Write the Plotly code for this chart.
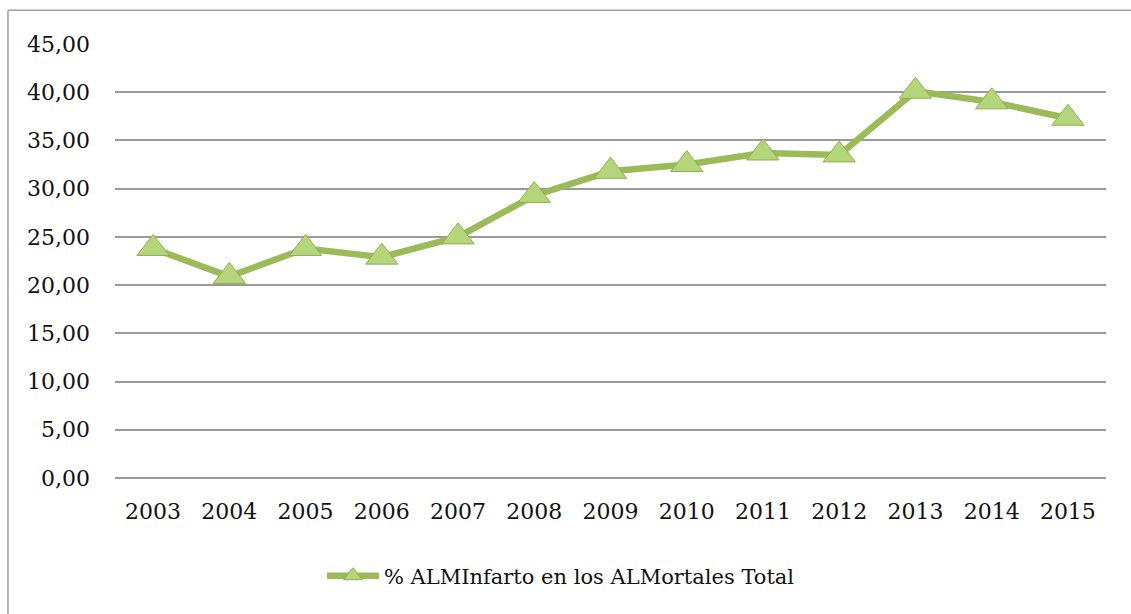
import plotly.graph_objs as go

years = ["2003", "2004", "2005", "2006", "2007", "2008", "2009",
         "2010", "2011", "2012", "2013", "2014", "2015"]
pct_infarto = [23.8, 20.9, 23.8, 22.9, 25.0, 29.3, 31.8,
               32.5, 33.7, 33.5, 40.1, 39.0, 37.3]
series_name = "% ALMInfarto en los ALMortales Total"

font_family = "DejaVu Serif"
line_color = "#9bbb59"
grid_color = "#9a9a9a"
frame_color = "#a0a0a0"

fig = go.Figure()
fig.add_trace(
    go.Scatter(
        x=years,
        y=pct_infarto,
        name=series_name,
        mode="lines+markers",
        line=dict(color=line_color, width=6.5),
        marker=dict(
            symbol="triangle-up",
            size=28,
            color="#b5d57b",
            line=dict(color="#8fb050", width=1),
        ),
    )
)

fig.update_layout(
    width=1131,
    height=614,
    margin=dict(l=115, r=25, t=44, b=136),
    paper_bgcolor="white",
    plot_bgcolor="white",
    separators=",.",
    font=dict(family=font_family, size=22, color="#111"),
    xaxis=dict(
        type="category",
        range=[-0.5, 12.5],
        showgrid=False,
        showline=False,
        ticks="",
        ticklabelstandoff=18,
        tickfont=dict(size=22),
    ),
    yaxis=dict(
        range=[0, 45],
        dtick=5,
        tickformat=".2f",
        showgrid=True,
        gridcolor=grid_color,
        gridwidth=1.5,
        zeroline=True,
        zerolinecolor=grid_color,
        zerolinewidth=1.5,
        ticks="",
        ticklabelstandoff=24,
        tickfont=dict(size=22),
    ),
    showlegend=True,
    legend=dict(
        orientation="h",
        x=0.45,
        xanchor="center",
        y=-0.226,
        yanchor="middle",
        itemwidth=52,
        font=dict(size=21),
        bgcolor="rgba(0,0,0,0)",
    ),
    shapes=[
        # outer chart frame: only left and top edges are in view
        dict(type="line", xref="paper", yref="paper",
             x0=-0.108, x1=-0.108, y0=-0.5, y1=1.078,
             line=dict(color=frame_color, width=1.5), layer="below"),
        dict(type="line", xref="paper", yref="paper",
             x0=-0.108, x1=1.2, y0=1.078, y1=1.078,
             line=dict(color=frame_color, width=1.5), layer="below"),
    ],
)

# drop the default body margin so the figure fills the window exactly
fig.write_html(
    "out.html",
    config={"displayModeBar": False},
    post_script="document.body.style.margin='0';document.body.style.overflow='hidden';",
)
